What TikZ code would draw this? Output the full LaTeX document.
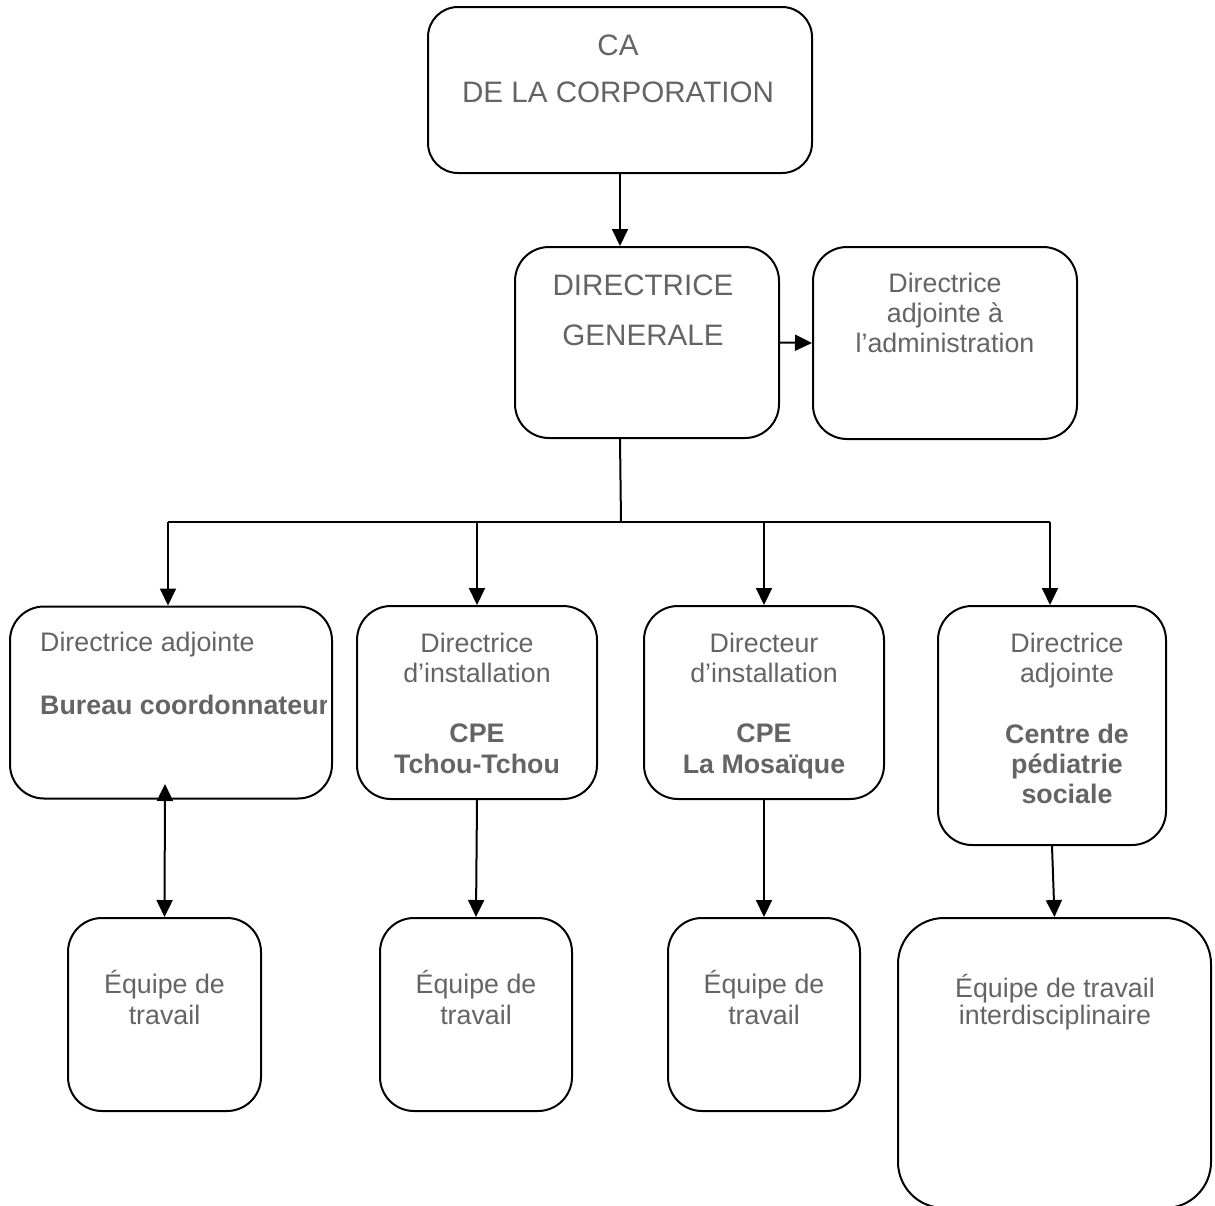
\documentclass[tikz,border=0pt]{standalone}
\usepackage{fontspec}
\setmainfont{Liberation Sans}
\usetikzlibrary{arrows.meta}
\definecolor{txtgray}{RGB}{100,100,100}
\begin{document}
\begin{tikzpicture}[x=1pt,y=-1pt,
  orgbox/.style={draw=black,line width=2pt,rounded corners=34pt,inner sep=0pt,minimum width=#1},
  lbl/.style={anchor=base,inner sep=0pt,text=txtgray,font=\fontsize{26.8}{31}\selectfont},
  biglbl/.style={anchor=base,inner sep=0pt,text=txtgray,font=\fontsize{29.6}{34}\selectfont},
  boldlbl/.style={lbl,font=\fontsize{26.8}{31}\selectfont\bfseries},
  arr/.style={line width=2pt,-{Triangle[width=16pt,length=17pt]}},
  conn/.style={line width=2pt}]
\useasboundingbox (0,0) rectangle (1215,1205);
\begin{scope}
\clip (0,0) rectangle (1215,1205);
% boxes
\node[orgbox=384pt,minimum height=166pt,rounded corners=30pt] (CA) at (620,90) {};
\node[orgbox=264pt,minimum height=191pt] (DG) at (647,342.5) {};
\node[orgbox=264pt,minimum height=192pt] (DAA) at (945,343) {};
\node[orgbox=322pt,minimum height=192pt] (B1) at (171,702.5) {};
\node[orgbox=240pt,minimum height=193pt] (B2) at (477,702.5) {};
\node[orgbox=240pt,minimum height=193pt] (B3) at (764,702.5) {};
\node[orgbox=228pt,minimum height=239pt] (B4) at (1052,725.5) {};
\node[orgbox=193pt,minimum height=193pt] (B5) at (164.5,1014.5) {};
\node[orgbox=192pt,minimum height=193pt] (B6) at (476,1014.5) {};
\node[orgbox=192pt,minimum height=193pt] (B7) at (764,1014.5) {};
\node[orgbox=313pt,minimum height=290pt,rounded corners=46pt] (B8) at (1054.5,1063) {};
% texts
\node[biglbl] (tCA1) at (618,55) {CA};
\node[biglbl] (tCA2) at (618,102) {DE LA CORPORATION};
\node[biglbl] (tDG1) at (643,295) {DIRECTRICE};
\node[biglbl] (tDG2) at (643,345) {GENERALE};
\node[lbl] (tA1) at (945,292) {Directrice};
\node[lbl] (tA2) at (945,322) {adjointe à};
\node[lbl] (tA3) at (945,352) {l’administration};
\node[lbl,anchor=base west] (t11) at (40,651) {Directrice adjointe};
\begin{scope}
\clip (10,600) rectangle (326.5,800);
\node[boldlbl,anchor=base west] (t12) at (40,714) {Bureau coordonnateur};
\end{scope}
\node[lbl] (t21) at (477,652) {Directrice};
\node[lbl] (t22) at (477,682) {d’installation};
\node[boldlbl] (t23) at (477,742) {CPE};
\node[boldlbl] (t24) at (477,773) {Tchou-Tchou};
\node[lbl] (t31) at (764,652) {Directeur};
\node[lbl] (t32) at (764,682) {d’installation};
\node[boldlbl] (t33) at (764,742) {CPE};
\node[boldlbl] (t34) at (764,773) {La Mosaïque};
\node[lbl] (t41) at (1067,652) {Directrice};
\node[lbl] (t42) at (1067,682) {adjointe};
\node[boldlbl] (t43) at (1067,743) {Centre de};
\node[boldlbl] (t44) at (1067,773) {pédiatrie};
\node[boldlbl] (t45) at (1067,803) {sociale};
\node[lbl] (t51) at (164.5,993) {Équipe de};
\node[lbl] (t52) at (164.5,1024) {travail};
\node[lbl] (t61) at (476,993) {Équipe de};
\node[lbl] (t62) at (476,1024) {travail};
\node[lbl] (t71) at (764,993) {Équipe de};
\node[lbl] (t72) at (764,1024) {travail};
\node[lbl] (t81) at (1055,997) {Équipe de travail};
\node[lbl] (t82) at (1055,1024) {interdisciplinaire};
% connectors
\draw[arr] (CA.south) -- (CA.south |- DG.north);
\draw[arr] (DG.east) -- (DAA.west);
\coordinate (bus) at (621,522);
\draw[conn] (CA.south |- DG.south) -- (bus);
\coordinate (busL) at (168,522);
\coordinate (busR) at (1050,522);
\draw[conn] (busL) -- (busR);
\draw[arr] (busL) -- (busL |- B1.north);
\draw[arr] (bus -| B2.north) -- (B2.north);
\draw[arr] (bus -| B3.north) -- (B3.north);
\draw[arr] (busR) -- (busR |- B4.north);
\coordinate (b1s) at (165,784);
\draw[line width=2pt,{Triangle[width=16pt,length=17pt]}-{Triangle[width=16pt,length=17pt]}] (b1s) -- (B5.north);
\draw[arr] (B2.south) -- (B6.north);
\draw[arr] (B3.south) -- (B7.north);
\draw[arr] (B4.south) -- (B8.north);
\end{scope}
\end{tikzpicture}
\end{document}
